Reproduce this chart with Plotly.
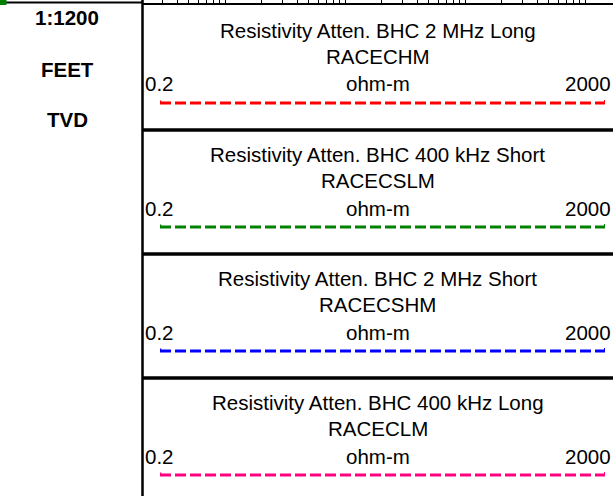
import math
import plotly.graph_objects as go

# ---------------- data ----------------
titles = [
    "Resistivity Atten. BHC 2 MHz Long",
    "Resistivity Atten. BHC 400 kHz Short",
    "Resistivity Atten. BHC 2 MHz Short",
    "Resistivity Atten. BHC 400 kHz Long",
]
mnemonics = ["RACECHM", "RACECSLM", "RACECSHM", "RACECLM"]
units = ["ohm-m", "ohm-m", "ohm-m", "ohm-m"]
left_values = [0.2, 0.2, 0.2, 0.2]
right_values = [2000, 2000, 2000, 2000]
colors = ["#FF0000", "#008000", "#0000FF", "#FF0080"]
depth_labels = ["1:1200", "FEET", "TVD"]

# ---------------- layout constants (pixels) ----------------
W, H = 613, 496
TRACK_X0 = 142.5
PANEL_TOPS = [6, 130, 254, 378]
CURVE_X0, CURVE_X1 = 160, 605
FONT = "Liberation Sans, Arial, sans-serif"
FS = 20.5


def py(ypx):
    return 1 - ypx / H


def px(xpx):
    return xpx / W


fig = go.Figure()

# curve legend lines, drawn on a log axis spanning the scale limits
for i, c in enumerate(colors):
    ydash = PANEL_TOPS[i] + 97
    fig.add_trace(go.Scatter(
        x=[left_values[i], right_values[i]], y=[ydash, ydash],
        mode="lines", line=dict(color=c, width=3, dash="11px,4px"),
        hoverinfo="skip", showlegend=False, xaxis="x", yaxis="y"))
    # small end caps
    fig.add_trace(go.Scatter(
        x=[left_values[i], left_values[i]], y=[ydash - 2.5, ydash],
        mode="lines", line=dict(color=c, width=2.5),
        hoverinfo="skip", showlegend=False, xaxis="x", yaxis="y"))
    fig.add_trace(go.Scatter(
        x=[right_values[i], right_values[i]], y=[ydash - 3, ydash - 1],
        mode="lines", line=dict(color=c, width=2),
        hoverinfo="skip", showlegend=False, xaxis="x", yaxis="y"))

# invisible trace for the top ruler axis
fig.add_trace(go.Scatter(x=[1, 10], y=[0, 0], mode="lines",
                         line=dict(width=0), hoverinfo="skip",
                         showlegend=False, xaxis="x2", yaxis="y2"))

annotations = []
center = (TRACK_X0 + W) / 2
for i in range(4):
    t = PANEL_TOPS[i]
    annotations.append(dict(text=titles[i], x=px(center), y=py(t + 24),
                            xanchor="center", yanchor="middle"))
    annotations.append(dict(text=mnemonics[i], x=px(center), y=py(t + 50),
                            xanchor="center", yanchor="middle"))
    annotations.append(dict(text=units[i], x=px(center), y=py(t + 78),
                            xanchor="center", yanchor="middle"))
    annotations.append(dict(text=f"{left_values[i]:g}", x=px(TRACK_X0 + 0.5), y=py(t + 78),
                            xanchor="left", yanchor="middle"))
    annotations.append(dict(text=f"{right_values[i]:g}", x=1, y=py(t + 78),
                            xanchor="right", yanchor="middle"))

for lbl, ypos in zip(depth_labels, [17, 69, 119]):
    annotations.append(dict(text=f"<b>{lbl}</b>", x=px(67), y=py(ypos),
                            xanchor="center", yanchor="middle"))

for a in annotations:
    a.update(xref="paper", yref="paper", showarrow=False,
             font=dict(family=FONT, size=FS, color="#000000"))

shapes = []
# panel separators
for t in PANEL_TOPS[1:]:
    shapes.append(dict(type="line", xref="paper", yref="paper",
                       x0=px(TRACK_X0), x1=1, y0=py(t), y1=py(t),
                       line=dict(color="#000000", width=3.5)))
# vertical divider
shapes.append(dict(type="line", xref="paper", yref="paper",
                   x0=px(TRACK_X0), x1=px(TRACK_X0), y0=0, y1=1,
                   line=dict(color="#000000", width=2.5)))
# left header top line
shapes.append(dict(type="line", xref="paper", yref="paper",
                   x0=px(6), x1=px(TRACK_X0), y0=py(2.5), y1=py(2.5),
                   line=dict(color="#000000", width=2)))
# green marker
shapes.append(dict(type="rect", xref="paper", yref="paper",
                   x0=0, x1=px(6.5), y0=py(5), y1=1,
                   line=dict(width=0), fillcolor="#008000"))

# top ruler geometry: decade lines every 120 px, one at x=225
DEC_PX = 120
REF_PX = 225
ruler_range = [(TRACK_X0 - REF_PX) / DEC_PX, (W - REF_PX) / DEC_PX]

fig.update_layout(
    width=W, height=H,
    margin=dict(l=0, r=0, t=0, b=0, pad=0),
    paper_bgcolor="white", plot_bgcolor="rgba(0,0,0,0)",
    showlegend=False,
    xaxis=dict(type="log", range=[math.log10(0.2), math.log10(2000)],
               domain=[px(CURVE_X0), px(CURVE_X1)], visible=False),
    yaxis=dict(range=[H, 0], domain=[0, 1], visible=False),
    xaxis2=dict(type="log", range=ruler_range, domain=[px(TRACK_X0), 1],
                anchor="y2", side="top", showline=True, linecolor="#000000",
                linewidth=2, ticks="outside", ticklen=6, tickwidth=1,
                tickcolor="#000000", dtick="D1", showticklabels=False,
                showgrid=False, zeroline=False),
    yaxis2=dict(domain=[0, py(5)], range=[0, 1], visible=False, anchor="x2"),
    annotations=annotations,
    shapes=shapes,
)

fig.write_html(
    "out.html",
    config={"displayModeBar": False},
    post_script="document.body.style.margin='0';document.body.style.padding='0';document.body.style.overflow='hidden';",
)
